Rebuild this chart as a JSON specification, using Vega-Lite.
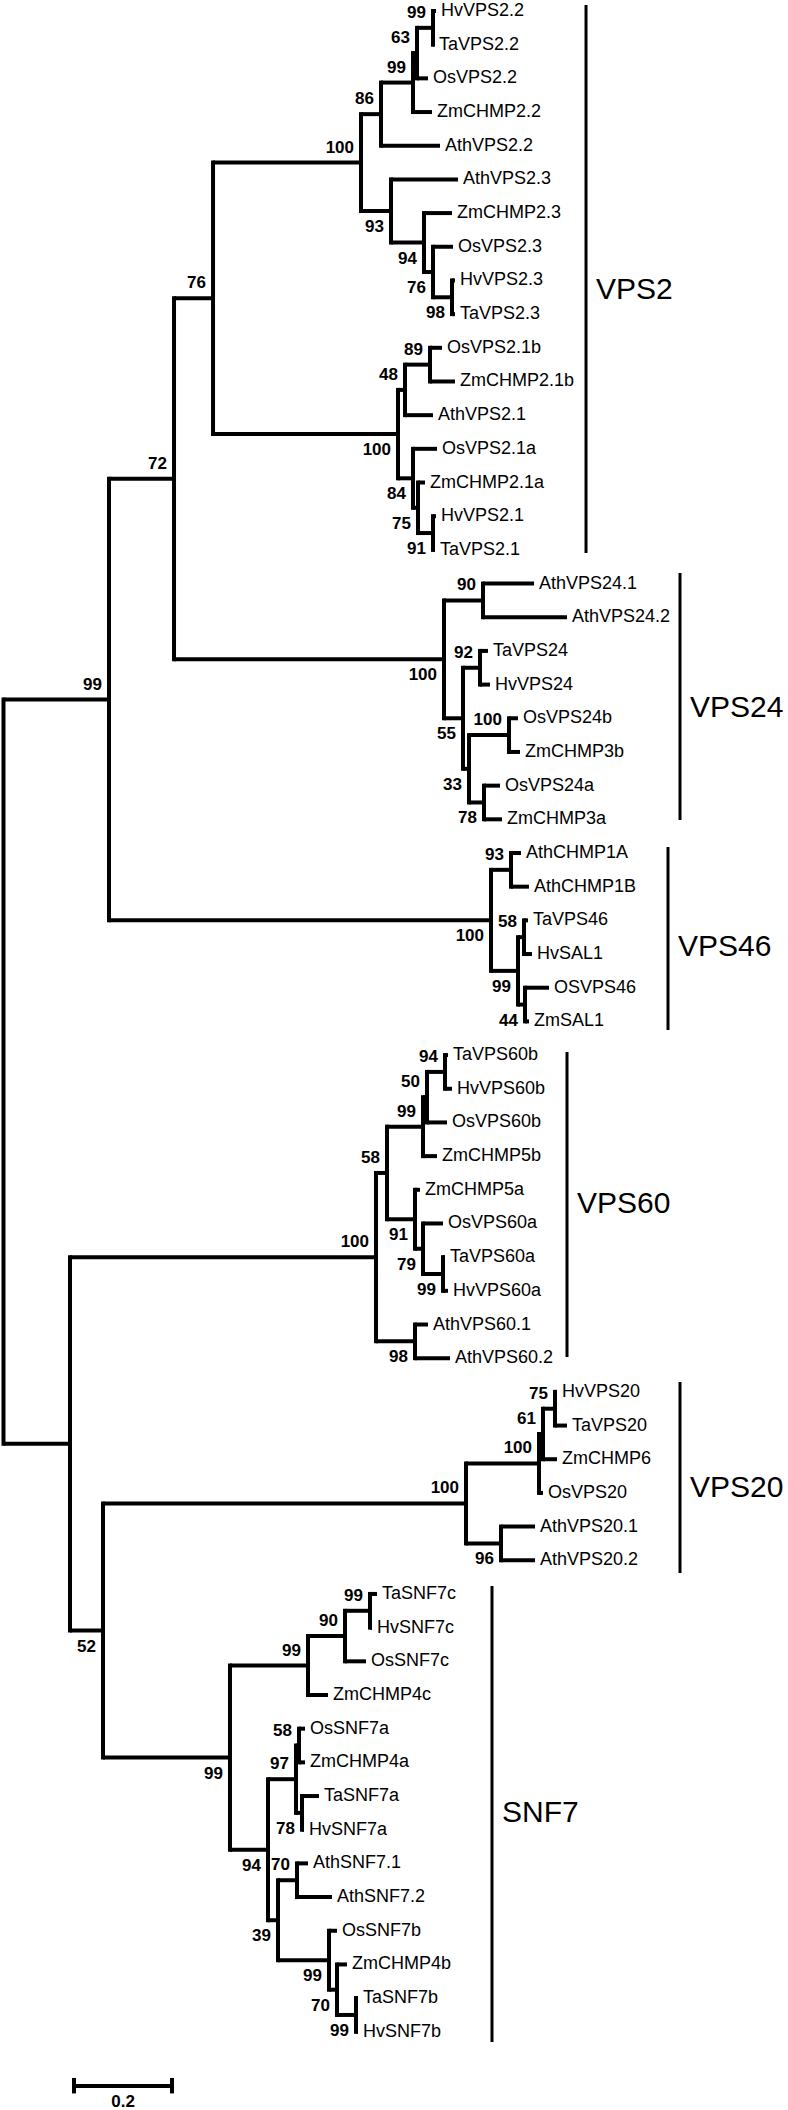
{
"$schema":"https://vega.github.io/schema/vega-lite/v6.json",
"width":788,"height":2110,"autosize":{"type":"none"},"padding":0,
"background":"white",
"config":{"view":{"stroke":null},"text":{"font":"Liberation Sans","color":"black"}},
"datasets":{
"tree":[
{"id":"root","x":0,"top":20.4453,"bottom":42.543},
{"id":"n99r","x":0.2153,"y":20.4453,"parentX":0,"top":13.8906,"bottom":27,"boot":"99","side":"above"},
{"id":"N1","x":0.1357,"y":42.543,"parentX":0,"top":37,"bottom":48.0859},
{"id":"n72","x":0.348,"y":13.8906,"parentX":0.2153,"top":8.5313,"bottom":19.25,"boot":"72","side":"above"},
{"id":"n76","x":0.4276,"y":8.5313,"parentX":0.348,"top":4.5,"bottom":12.5625,"boot":"76","side":"above"},
{"id":"n100a","x":0.7296,"y":4.5,"parentX":0.4276,"top":3.0625,"bottom":5.9375,"boot":"100","side":"above"},
{"id":"n86","x":0.7704,"y":3.0625,"parentX":0.7296,"top":2.125,"bottom":4,"boot":"86","side":"above"},
{"id":"n99a","x":0.8357,"y":2.125,"parentX":0.7704,"top":1.25,"bottom":3,"boot":"99","side":"above"},
{"id":"n63","x":0.8439,"y":1.25,"parentX":0.8357,"top":0.5,"bottom":2,"boot":"63","side":"above"},
{"id":"n99b","x":0.8765,"y":0.5,"parentX":0.8439,"top":0,"bottom":1,"boot":"99","side":"above"},
{"name":"HvVPS2.2","x":0.8827,"y":0,"parentX":0.8765},
{"name":"TaVPS2.2","x":0.8786,"y":1,"parentX":0.8765},
{"name":"OsVPS2.2","x":0.8663,"y":2,"parentX":0.8439},
{"name":"ZmCHMP2.2","x":0.8745,"y":3,"parentX":0.8357},
{"name":"AthVPS2.2","x":0.8908,"y":4,"parentX":0.7704},
{"id":"n93","x":0.7908,"y":5.9375,"parentX":0.7296,"top":5,"bottom":6.875,"boot":"93","side":"below"},
{"name":"AthVPS2.3","x":0.9276,"y":5,"parentX":0.7908},
{"id":"n94","x":0.8582,"y":6.875,"parentX":0.7908,"top":6,"bottom":7.75,"boot":"94","side":"below"},
{"name":"ZmCHMP2.3","x":0.9153,"y":6,"parentX":0.8582},
{"id":"n76b","x":0.8765,"y":7.75,"parentX":0.8582,"top":7,"bottom":8.5,"boot":"76","side":"below"},
{"name":"OsVPS2.3","x":0.9173,"y":7,"parentX":0.8765},
{"id":"n98","x":0.9153,"y":8.5,"parentX":0.8765,"top":8,"bottom":9,"boot":"98","side":"below"},
{"name":"HvVPS2.3","x":0.9214,"y":8,"parentX":0.9153},
{"name":"TaVPS2.3","x":0.9214,"y":9,"parentX":0.9153},
{"id":"n100b","x":0.8051,"y":12.5625,"parentX":0.4276,"top":11.25,"bottom":13.875,"boot":"100","side":"below"},
{"id":"n48","x":0.8194,"y":11.25,"parentX":0.8051,"top":10.5,"bottom":12,"boot":"48","side":"above"},
{"id":"n89","x":0.8704,"y":10.5,"parentX":0.8194,"top":10,"bottom":11,"boot":"89","side":"above"},
{"name":"OsVPS2.1b","x":0.8949,"y":10,"parentX":0.8704},
{"name":"ZmCHMP2.1b","x":0.9214,"y":11,"parentX":0.8704},
{"name":"AthVPS2.1","x":0.8765,"y":12,"parentX":0.8194},
{"id":"n84","x":0.8357,"y":13.875,"parentX":0.8051,"top":13,"bottom":14.75,"boot":"84","side":"below"},
{"name":"OsVPS2.1a","x":0.8847,"y":13,"parentX":0.8357},
{"id":"n75","x":0.8459,"y":14.75,"parentX":0.8357,"top":14,"bottom":15.5,"boot":"75","side":"below"},
{"name":"ZmCHMP2.1a","x":0.8602,"y":14,"parentX":0.8459},
{"id":"n91","x":0.8765,"y":15.5,"parentX":0.8459,"top":15,"bottom":16,"boot":"91","side":"below"},
{"name":"HvVPS2.1","x":0.8827,"y":15,"parentX":0.8765},
{"name":"TaVPS2.1","x":0.8806,"y":16,"parentX":0.8765},
{"id":"n100d","x":0.899,"y":19.25,"parentX":0.348,"top":17.5,"bottom":21,"boot":"100","side":"below"},
{"id":"n90","x":0.9786,"y":17.5,"parentX":0.899,"top":17,"bottom":18,"boot":"90","side":"above"},
{"name":"AthVPS24.1","x":1.0827,"y":17,"parentX":0.9786},
{"name":"AthVPS24.2","x":1.15,"y":18,"parentX":0.9786},
{"id":"n55","x":0.9378,"y":21,"parentX":0.899,"top":19.5,"bottom":22.5,"boot":"55","side":"below"},
{"id":"n92","x":0.9724,"y":19.5,"parentX":0.9378,"top":19,"bottom":20,"boot":"92","side":"above"},
{"name":"TaVPS24","x":0.9888,"y":19,"parentX":0.9724},
{"name":"HvVPS24","x":0.9929,"y":20,"parentX":0.9724},
{"id":"n33","x":0.95,"y":22.5,"parentX":0.9378,"top":21.5,"bottom":23.5,"boot":"33","side":"below"},
{"id":"n100c","x":1.0316,"y":21.5,"parentX":0.95,"top":21,"bottom":22,"boot":"100","side":"above"},
{"name":"OsVPS24b","x":1.05,"y":21,"parentX":1.0316},
{"name":"ZmCHMP3b","x":1.0541,"y":22,"parentX":1.0316},
{"id":"n78","x":0.9806,"y":23.5,"parentX":0.95,"top":23,"bottom":24,"boot":"78","side":"below"},
{"name":"OsVPS24a","x":1.0133,"y":23,"parentX":0.9806},
{"name":"ZmCHMP3a","x":1.0173,"y":24,"parentX":0.9806},
{"id":"n100e","x":0.9949,"y":27,"parentX":0.2153,"top":25.5,"bottom":28.5,"boot":"100","side":"below"},
{"id":"n93b","x":1.0357,"y":25.5,"parentX":0.9949,"top":25,"bottom":26,"boot":"93","side":"above"},
{"name":"AthCHMP1A","x":1.0561,"y":25,"parentX":1.0357},
{"name":"AthCHMP1B","x":1.0724,"y":26,"parentX":1.0357},
{"id":"n99f","x":1.05,"y":28.5,"parentX":0.9949,"top":27.5,"bottom":29.5,"boot":"99","side":"below"},
{"id":"n58","x":1.0622,"y":27.5,"parentX":1.05,"top":27,"bottom":28,"boot":"58","side":"above"},
{"name":"TaVPS46","x":1.0704,"y":27,"parentX":1.0622},
{"name":"HvSAL1","x":1.0786,"y":28,"parentX":1.0622},
{"id":"n44","x":1.0643,"y":29.5,"parentX":1.05,"top":29,"bottom":30,"boot":"44","side":"below"},
{"name":"OSVPS46","x":1.1133,"y":29,"parentX":1.0643},
{"name":"ZmSAL1","x":1.0724,"y":30,"parentX":1.0643},
{"id":"n100f","x":0.7602,"y":37,"parentX":0.1357,"top":34.5,"bottom":39.5,"boot":"100","side":"above"},
{"id":"n58b","x":0.7827,"y":34.5,"parentX":0.7602,"top":33.125,"bottom":35.875,"boot":"58","side":"above"},
{"id":"n99g","x":0.8561,"y":33.125,"parentX":0.7827,"top":32.25,"bottom":34,"boot":"99","side":"above"},
{"id":"n50","x":0.8643,"y":32.25,"parentX":0.8561,"top":31.5,"bottom":33,"boot":"50","side":"above"},
{"id":"n94b","x":0.901,"y":31.5,"parentX":0.8643,"top":31,"bottom":32,"boot":"94","side":"above"},
{"name":"TaVPS60b","x":0.9071,"y":31,"parentX":0.901},
{"name":"HvVPS60b","x":0.9153,"y":32,"parentX":0.901},
{"name":"OsVPS60b","x":0.9051,"y":33,"parentX":0.8643},
{"name":"ZmCHMP5b","x":0.8847,"y":34,"parentX":0.8561},
{"id":"n91b","x":0.8398,"y":35.875,"parentX":0.7827,"top":35,"bottom":36.75,"boot":"91","side":"below"},
{"name":"ZmCHMP5a","x":0.85,"y":35,"parentX":0.8398},
{"id":"n79","x":0.8561,"y":36.75,"parentX":0.8398,"top":36,"bottom":37.5,"boot":"79","side":"below"},
{"name":"OsVPS60a","x":0.8969,"y":36,"parentX":0.8561},
{"id":"n99h","x":0.8969,"y":37.5,"parentX":0.8561,"top":37,"bottom":38,"boot":"99","side":"below"},
{"name":"TaVPS60a","x":0.901,"y":37,"parentX":0.8969},
{"name":"HvVPS60a","x":0.9071,"y":38,"parentX":0.8969},
{"id":"n98b","x":0.8398,"y":39.5,"parentX":0.7602,"top":39,"bottom":40,"boot":"98","side":"below"},
{"name":"AthVPS60.1","x":0.8663,"y":39,"parentX":0.8398},
{"name":"AthVPS60.2","x":0.9112,"y":40,"parentX":0.8398},
{"id":"n52","x":0.2031,"y":48.0859,"parentX":0.1357,"top":44.3125,"bottom":51.8594,"boot":"52","side":"below"},
{"id":"n100h","x":0.9439,"y":44.3125,"parentX":0.2031,"top":43.125,"bottom":45.5,"boot":"100","side":"above"},
{"id":"n100g","x":1.0929,"y":43.125,"parentX":0.9439,"top":42.25,"bottom":44,"boot":"100","side":"above"},
{"id":"n61","x":1.101,"y":42.25,"parentX":1.0929,"top":41.5,"bottom":43,"boot":"61","side":"above"},
{"id":"n75b","x":1.1255,"y":41.5,"parentX":1.101,"top":41,"bottom":42,"boot":"75","side":"above"},
{"name":"HvVPS20","x":1.1296,"y":41,"parentX":1.1255},
{"name":"TaVPS20","x":1.15,"y":42,"parentX":1.1255},
{"name":"ZmCHMP6","x":1.1296,"y":43,"parentX":1.101},
{"name":"OsVPS20","x":1.101,"y":44,"parentX":1.0929},
{"id":"n96","x":1.0153,"y":45.5,"parentX":0.9439,"top":45,"bottom":46,"boot":"96","side":"below"},
{"name":"AthVPS20.1","x":1.0847,"y":45,"parentX":1.0153},
{"name":"AthVPS20.2","x":1.0847,"y":46,"parentX":1.0153},
{"id":"n99m","x":0.4622,"y":51.8594,"parentX":0.2031,"top":49.125,"bottom":54.5938,"boot":"99","side":"below"},
{"id":"n99j","x":0.6214,"y":49.125,"parentX":0.4622,"top":48.25,"bottom":50,"boot":"99","side":"above"},
{"id":"n90b","x":0.6969,"y":48.25,"parentX":0.6214,"top":47.5,"bottom":49,"boot":"90","side":"above"},
{"id":"n99i","x":0.748,"y":47.5,"parentX":0.6969,"top":47,"bottom":48,"boot":"99","side":"above"},
{"name":"TaSNF7c","x":0.7622,"y":47,"parentX":0.748},
{"name":"HvSNF7c","x":0.752,"y":48,"parentX":0.748},
{"name":"OsSNF7c","x":0.7398,"y":49,"parentX":0.6969},
{"name":"ZmCHMP4c","x":0.6622,"y":50,"parentX":0.6214},
{"id":"n94c","x":0.5398,"y":54.5938,"parentX":0.4622,"top":52.5,"bottom":56.6875,"boot":"94","side":"below"},
{"id":"n97","x":0.5969,"y":52.5,"parentX":0.5398,"top":51.5,"bottom":53.5,"boot":"97","side":"above"},
{"id":"n58c","x":0.6031,"y":51.5,"parentX":0.5969,"top":51,"bottom":52,"boot":"58","side":"above"},
{"name":"OsSNF7a","x":0.6153,"y":51,"parentX":0.6031},
{"name":"ZmCHMP4a","x":0.6153,"y":52,"parentX":0.6031},
{"id":"n78b","x":0.6092,"y":53.5,"parentX":0.5969,"top":53,"bottom":54,"boot":"78","side":"below"},
{"name":"TaSNF7a","x":0.6439,"y":53,"parentX":0.6092},
{"name":"HvSNF7a","x":0.6133,"y":54,"parentX":0.6092},
{"id":"n39","x":0.5602,"y":56.6875,"parentX":0.5398,"top":55.5,"bottom":57.875,"boot":"39","side":"below"},
{"id":"n70","x":0.599,"y":55.5,"parentX":0.5602,"top":55,"bottom":56,"boot":"70","side":"above"},
{"name":"AthSNF7.1","x":0.6214,"y":55,"parentX":0.599},
{"name":"AthSNF7.2","x":0.6704,"y":56,"parentX":0.599},
{"id":"n99k","x":0.6643,"y":57.875,"parentX":0.5602,"top":57,"bottom":58.75,"boot":"99","side":"below"},
{"name":"OsSNF7b","x":0.6806,"y":57,"parentX":0.6643},
{"id":"n70b","x":0.6806,"y":58.75,"parentX":0.6643,"top":58,"bottom":59.5,"boot":"70","side":"below"},
{"name":"ZmCHMP4b","x":0.701,"y":58,"parentX":0.6806},
{"id":"n99l","x":0.7194,"y":59.5,"parentX":0.6806,"top":59,"bottom":60,"boot":"99","side":"below"},
{"name":"TaSNF7b","x":0.7235,"y":59,"parentX":0.7194},
{"name":"HvSNF7b","x":0.7235,"y":60,"parentX":0.7194}
],
"clades":[
{"clade":"VPS2","x":1.1888,"top":-0.178,"bottom":16.093,"labelY":8.28},
{"clade":"VPS24","x":1.3806,"top":16.687,"bottom":24.02,"labelY":20.7},
{"clade":"VPS46","x":1.3561,"top":24.822,"bottom":30.255,"labelY":27.8},
{"clade":"VPS60","x":1.15,"top":30.909,"bottom":39.965,"labelY":35.42},
{"clade":"VPS20","x":1.3806,"top":40.707,"bottom":46.378,"labelY":43.85},
{"clade":"SNF7","x":0.9969,"top":46.764,"bottom":60.303,"labelY":53.5}
],
"scalebar":[{"start":0.1439,"end":0.3439,"mid":0.2439,"y":61.61,"tickTop":61.37,"tickBottom":61.83,"label":"0.2"}]
},
"layer":[
{"data":{"name":"tree"},"transform":[{"filter":"isValid(datum.parentX)"}],
 "mark":{"type":"rule","strokeWidth":4,"color":"black","strokeCap":"butt"},
 "encoding":{"x":{"field":"parentX","type":"quantitative","scale":{"domain":[-0.00714,1.601],"nice":false,"zero":false},"axis":null},
  "x2":{"field":"x"},
  "y":{"field":"y","type":"quantitative","scale":{"domain":[-0.3266,62.322],"nice":false,"zero":false,"reverse":true},"axis":null}}},
{"data":{"name":"tree"},"transform":[{"filter":"isValid(datum.top)"}],
 "mark":{"type":"rule","strokeWidth":4,"color":"black","strokeCap":"square"},
 "encoding":{"x":{"field":"x","type":"quantitative","scale":{"domain":[-0.00714,1.601],"nice":false,"zero":false},"axis":null},
  "y":{"field":"top","type":"quantitative","scale":{"domain":[-0.3266,62.322],"nice":false,"zero":false,"reverse":true},"axis":null},
  "y2":{"field":"bottom"}}},
{"data":{"name":"tree"},"transform":[{"filter":"isValid(datum.name)"}],
 "mark":{"type":"text","align":"left","baseline":"middle","dx":5,"fontSize":18},
 "encoding":{"x":{"field":"x","type":"quantitative","scale":{"domain":[-0.00714,1.601],"nice":false,"zero":false},"axis":null},
  "y":{"field":"y","type":"quantitative","scale":{"domain":[-0.3266,62.322],"nice":false,"zero":false,"reverse":true},"axis":null},
  "text":{"field":"name"}}},
{"data":{"name":"tree"},"transform":[{"filter":"datum.side === 'above'"}],
 "mark":{"type":"text","align":"right","baseline":"middle","dx":-7,"dy":-15,"fontSize":17,"fontWeight":"bold"},
 "encoding":{"x":{"field":"x","type":"quantitative","scale":{"domain":[-0.00714,1.601],"nice":false,"zero":false},"axis":null},
  "y":{"field":"y","type":"quantitative","scale":{"domain":[-0.3266,62.322],"nice":false,"zero":false,"reverse":true},"axis":null},
  "text":{"field":"boot"}}},
{"data":{"name":"tree"},"transform":[{"filter":"datum.side === 'below'"}],
 "mark":{"type":"text","align":"right","baseline":"middle","dx":-7,"dy":16,"fontSize":17,"fontWeight":"bold"},
 "encoding":{"x":{"field":"x","type":"quantitative","scale":{"domain":[-0.00714,1.601],"nice":false,"zero":false},"axis":null},
  "y":{"field":"y","type":"quantitative","scale":{"domain":[-0.3266,62.322],"nice":false,"zero":false,"reverse":true},"axis":null},
  "text":{"field":"boot"}}},
{"data":{"name":"clades"},
 "mark":{"type":"rule","strokeWidth":3,"color":"black","strokeCap":"butt"},
 "encoding":{"x":{"field":"x","type":"quantitative","scale":{"domain":[-0.00714,1.601],"nice":false,"zero":false},"axis":null},
  "y":{"field":"top","type":"quantitative","scale":{"domain":[-0.3266,62.322],"nice":false,"zero":false,"reverse":true},"axis":null},
  "y2":{"field":"bottom"}}},
{"data":{"name":"clades"},
 "mark":{"type":"text","align":"left","baseline":"middle","dx":10,"fontSize":30},
 "encoding":{"x":{"field":"x","type":"quantitative","scale":{"domain":[-0.00714,1.601],"nice":false,"zero":false},"axis":null},
  "y":{"field":"labelY","type":"quantitative","scale":{"domain":[-0.3266,62.322],"nice":false,"zero":false,"reverse":true},"axis":null},
  "text":{"field":"clade"}}},
{"data":{"name":"scalebar"},
 "mark":{"type":"rule","strokeWidth":4,"color":"black","strokeCap":"butt"},
 "encoding":{"x":{"field":"start","type":"quantitative","scale":{"domain":[-0.00714,1.601],"nice":false,"zero":false},"axis":null},
  "x2":{"field":"end"},
  "y":{"field":"y","type":"quantitative","scale":{"domain":[-0.3266,62.322],"nice":false,"zero":false,"reverse":true},"axis":null}}},
{"data":{"name":"scalebar"},
 "mark":{"type":"rule","strokeWidth":4,"color":"black","strokeCap":"butt"},
 "encoding":{"x":{"field":"start","type":"quantitative","scale":{"domain":[-0.00714,1.601],"nice":false,"zero":false},"axis":null},
  "y":{"field":"tickTop","type":"quantitative","scale":{"domain":[-0.3266,62.322],"nice":false,"zero":false,"reverse":true},"axis":null},
  "y2":{"field":"tickBottom"}}},
{"data":{"name":"scalebar"},
 "mark":{"type":"rule","strokeWidth":4,"color":"black","strokeCap":"butt"},
 "encoding":{"x":{"field":"end","type":"quantitative","scale":{"domain":[-0.00714,1.601],"nice":false,"zero":false},"axis":null},
  "y":{"field":"tickTop","type":"quantitative","scale":{"domain":[-0.3266,62.322],"nice":false,"zero":false,"reverse":true},"axis":null},
  "y2":{"field":"tickBottom"}}},
{"data":{"name":"scalebar"},
 "mark":{"type":"text","align":"center","baseline":"middle","dy":16,"fontSize":17,"fontWeight":"bold"},
 "encoding":{"x":{"field":"mid","type":"quantitative","scale":{"domain":[-0.00714,1.601],"nice":false,"zero":false},"axis":null},
  "y":{"field":"y","type":"quantitative","scale":{"domain":[-0.3266,62.322],"nice":false,"zero":false,"reverse":true},"axis":null},
  "text":{"field":"label"}}}
]
}
